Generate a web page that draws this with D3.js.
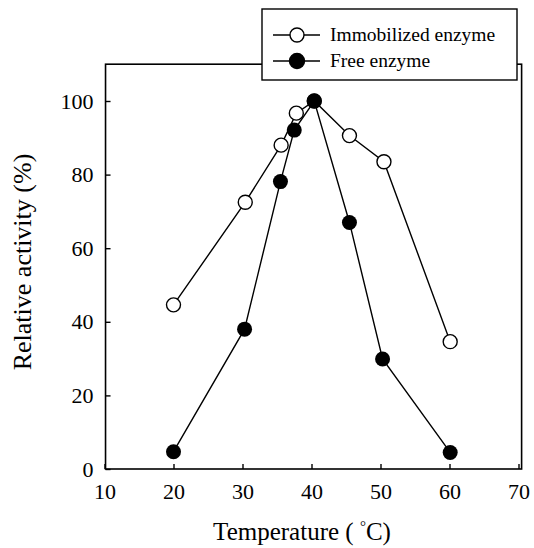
<!DOCTYPE html>
<html>
<head>
<meta charset="utf-8">
<script src="https://cdn.jsdelivr.net/npm/d3@7"></script>
<style>
  html, body { margin: 0; padding: 0; background: #fff; }
  svg { display: block; }
  text { font-family: "Liberation Serif", "Times New Roman", serif; fill: #000; }
</style>
</head>
<body>
<svg id="chart" width="534" height="548"></svg>
<script>
// ---- data ----
const immobTemp = [20, 30.4, 35.6, 37.8, 40.4, 45.5, 50.5, 60.1];
const immobActivity = [44.6, 72.5, 88, 96.7, 100, 90.6, 83.5, 34.6];
const freeTemp = [20, 30.3, 35.5, 37.5, 40.4, 45.5, 50.3, 60.1];
const freeActivity = [4.7, 38, 78.1, 92.1, 100, 67, 29.9, 4.5];
const xTicks = [10, 20, 30, 40, 50, 60, 70];
const yTicks = [0, 20, 40, 60, 80, 100];
const seriesNames = ["Immobilized enzyme", "Free enzyme"];

const svg = d3.select("#chart");
const x = d3.scaleLinear().domain([10, 70]).range([104.5, 518.5]);
const y = d3.scaleLinear().domain([0, 110]).range([469, 64.2]);

const fLeft = x(10.15), fRight = x(70.45), fTop = y(110), fBottom = y(0);

// frame
svg.append("rect")
  .attr("x", fLeft).attr("y", fTop)
  .attr("width", fRight - fLeft).attr("height", fBottom - fTop)
  .attr("fill", "none").attr("stroke", "#000").attr("stroke-width", 1.6);

// x axis (inward ticks)
const xAxis = d3.axisBottom(x).tickValues(xTicks).tickSizeInner(-5).tickSizeOuter(0).tickPadding(14);
const gx = svg.append("g").attr("transform", `translate(0,${fBottom})`).call(xAxis);
gx.attr("font-family", null);
gx.select(".domain").remove();
gx.selectAll("line").attr("stroke-width", 1.4);
gx.selectAll("text").attr("font-size", 22).style("font-family", '"Liberation Serif", serif');

// y axis (inward ticks)
const yAxis = d3.axisLeft(y).tickValues(yTicks).tickSizeInner(-5).tickSizeOuter(0).tickPadding(12);
const gy = svg.append("g").attr("transform", `translate(${fLeft},0)`).call(yAxis);
gy.attr("font-family", null);
gy.select(".domain").remove();
gy.selectAll("line").attr("stroke-width", 1.4);
gy.selectAll("text").attr("font-size", 22).style("font-family", '"Liberation Serif", serif');

// axis titles
const xt = svg.append("text")
  .attr("x", 302).attr("y", 540)
  .attr("text-anchor", "middle").attr("font-size", 25);
xt.append("tspan").text("Temperature ( ");
xt.append("tspan").attr("font-size", 15).attr("dy", -9).text("°");
xt.append("tspan").attr("dy", 9).text("C)");

svg.append("text")
  .attr("transform", "translate(31,262) rotate(-90)")
  .attr("text-anchor", "middle").attr("font-size", 26)
  .text("Relative activity (%)");

// series
const line = d3.line().x(d => x(d[0])).y(d => y(d[1]));
const immob = immobTemp.map((t, i) => [t, immobActivity[i]]);
const free = freeTemp.map((t, i) => [t, freeActivity[i]]);

svg.append("path").datum(immob).attr("d", line)
  .attr("fill", "none").attr("stroke", "#000").attr("stroke-width", 1.4);
svg.append("path").datum(free).attr("d", line)
  .attr("fill", "none").attr("stroke", "#000").attr("stroke-width", 1.4);

svg.append("g").selectAll("circle").data(immob).join("circle")
  .attr("cx", d => x(d[0])).attr("cy", d => y(d[1])).attr("r", 7)
  .attr("fill", "#fff").attr("stroke", "#000").attr("stroke-width", 1.4);
svg.append("g").selectAll("circle").data(free).join("circle")
  .attr("cx", d => x(d[0])).attr("cy", d => y(d[1])).attr("r", 7.5)
  .attr("fill", "#000");

// legend
const lg = svg.append("g");
lg.append("rect").attr("x", 262).attr("y", 9).attr("width", 255).attr("height", 71)
  .attr("fill", "#fff").attr("stroke", "#000").attr("stroke-width", 1.4);
const rows = [{name: seriesNames[0], filled: false, cy: 35}, {name: seriesNames[1], filled: true, cy: 61}];
rows.forEach(r => {
  lg.append("line").attr("x1", 273).attr("x2", 320).attr("y1", r.cy).attr("y2", r.cy)
    .attr("stroke", "#000").attr("stroke-width", 1.4);
  lg.append("circle").attr("cx", 297).attr("cy", r.cy).attr("r", r.filled ? 7.5 : 7)
    .attr("fill", r.filled ? "#000" : "#fff").attr("stroke", "#000").attr("stroke-width", 1.4);
  lg.append("text").attr("x", 330).attr("y", r.cy + 6).attr("font-size", 19.5).text(r.name);
});
</script>
</body>
</html>
